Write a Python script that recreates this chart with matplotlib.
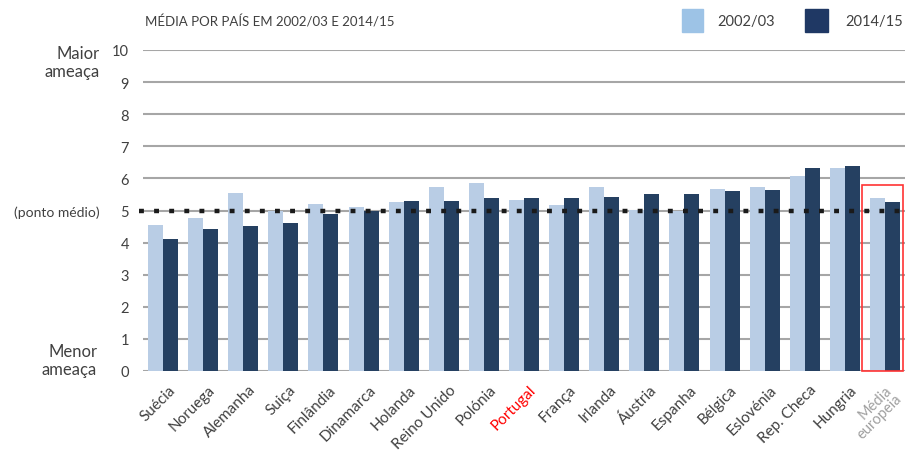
import matplotlib
matplotlib.use('Agg')
import matplotlib.pyplot as plt
import matplotlib.transforms as mtransforms
import numpy as np
from matplotlib.patches import Rectangle

plt.rcParams['font.family'] = ['Lato', 'DejaVu Sans']

# data
paises = ['Suécia', 'Noruega', 'Alemanha', 'Suiça', 'Finlândia', 'Dinamarca',
          'Holanda', 'Reino Unido', 'Polónia', 'Portugal', 'França', 'Irlanda',
          'Áustria', 'Espanha', 'Bélgica', 'Eslovénia', 'Rep. Checa', 'Hungria',
          'Média\neuropeia']
v2002 = [4.56, 4.78, 5.56, 5.00, 5.21, 5.12, 5.25, 5.73, 5.87, 5.34, 5.16, 5.73,
         5.03, 4.98, 5.68, 5.73, 6.08, 6.33, 5.39]
v2014 = [4.12, 4.43, 4.52, 4.60, 4.90, 4.98, 5.30, 5.30, 5.39, 5.39, 5.39, 5.43,
         5.51, 5.51, 5.60, 5.64, 6.33, 6.39, 5.25]
ponto_medio = 5
yticks = list(range(0, 11))

c_light = '#B9CDE5'
c_dark = '#254061'
c_text = '#404040'

# init figure
fig = plt.figure(figsize=(9.05, 4.52), dpi=100)
ax = fig.add_axes([143 / 905, 1 - 372 / 452, 762 / 905, 321 / 452])

x = np.arange(len(paises))
w = 0.374
ax.bar(x - w / 2, v2002, w, color=c_light, zorder=2)
ax.bar(x + w / 2, v2014, w, color=c_dark, zorder=2)

# midpoint dotted line
ax.axhline(ponto_medio, xmin=-0.005, xmax=1, color='#1a1a1a', lw=3.2,
           dashes=(1.1, 2.3), zorder=3, clip_on=False)

ax.set_xlim(-0.5, len(paises) - 0.5)
ax.set_ylim(0, 10)
ax.set_yticks(yticks)
ax.set_yticklabels([str(t) for t in yticks], fontsize=10.5, color=c_text)
ax.yaxis.grid(True, color='#A6A6A6', lw=1.5, zorder=0)
ax.tick_params(axis='y', length=0, pad=10)
ax.tick_params(axis='x', length=0, pad=8)
for s in ax.spines.values():
    s.set_visible(False)

ax.set_xticks(x)
ax.set_xticklabels(paises, rotation=45, ha='right', rotation_mode='anchor',
                   fontsize=11, color=c_text, linespacing=0.9)
shift = mtransforms.ScaledTranslation(5 / 100, 0, fig.dpi_scale_trans)
for lab in ax.get_xticklabels():
    if lab.get_text() == 'Portugal':
        lab.set_color('#FF0000')
    if lab.get_text().startswith('Média'):
        lab.set_color('#A0A0A0')
        lab.set_fontsize(10.5)
    else:
        lab.set_transform(lab.get_transform() + shift)

# red box round the european average
ax.add_patch(Rectangle((17.42, 0), 1.03, 5.8, fill=False, ec='#FF3333',
                       lw=1.2, zorder=4, clip_on=False))

# side labels
fig.text(100 / 905, 1 - 63 / 452, 'Maior\nameaça', ha='right', va='center',
         fontsize=12, color=c_text, linespacing=1.2)
fig.text(100 / 905, 1 - 213 / 452, '(ponto médio)', ha='right', va='center',
         fontsize=10, color=c_text)
fig.text(97 / 905, 1 - 361 / 452, 'Menor\nameaça', ha='right', va='center',
         fontsize=12, color=c_text, linespacing=1.2)

# title
fig.text(145 / 905, 1 - 22 / 452, 'MÉDIA POR PAÍS EM 2002/03 E 2014/15',
         ha='left', va='center', fontsize=9.5, color=c_text)

# legend
fig.add_artist(Rectangle((682 / 905, 1 - 33 / 452), 21 / 905, 23 / 452,
                         transform=fig.transFigure, color='#9DC3E6'))
fig.text(717 / 905, 1 - 22 / 452, '2002/03', ha='left', va='center',
         fontsize=10.5, color=c_text)
fig.add_artist(Rectangle((805 / 905, 1 - 33 / 452), 23 / 905, 23 / 452,
                         transform=fig.transFigure, color='#1F3864'))
fig.text(845 / 905, 1 - 22 / 452, '2014/15', ha='left', va='center',
         fontsize=10.5, color=c_text)

plt.savefig('out.png', dpi=100)
